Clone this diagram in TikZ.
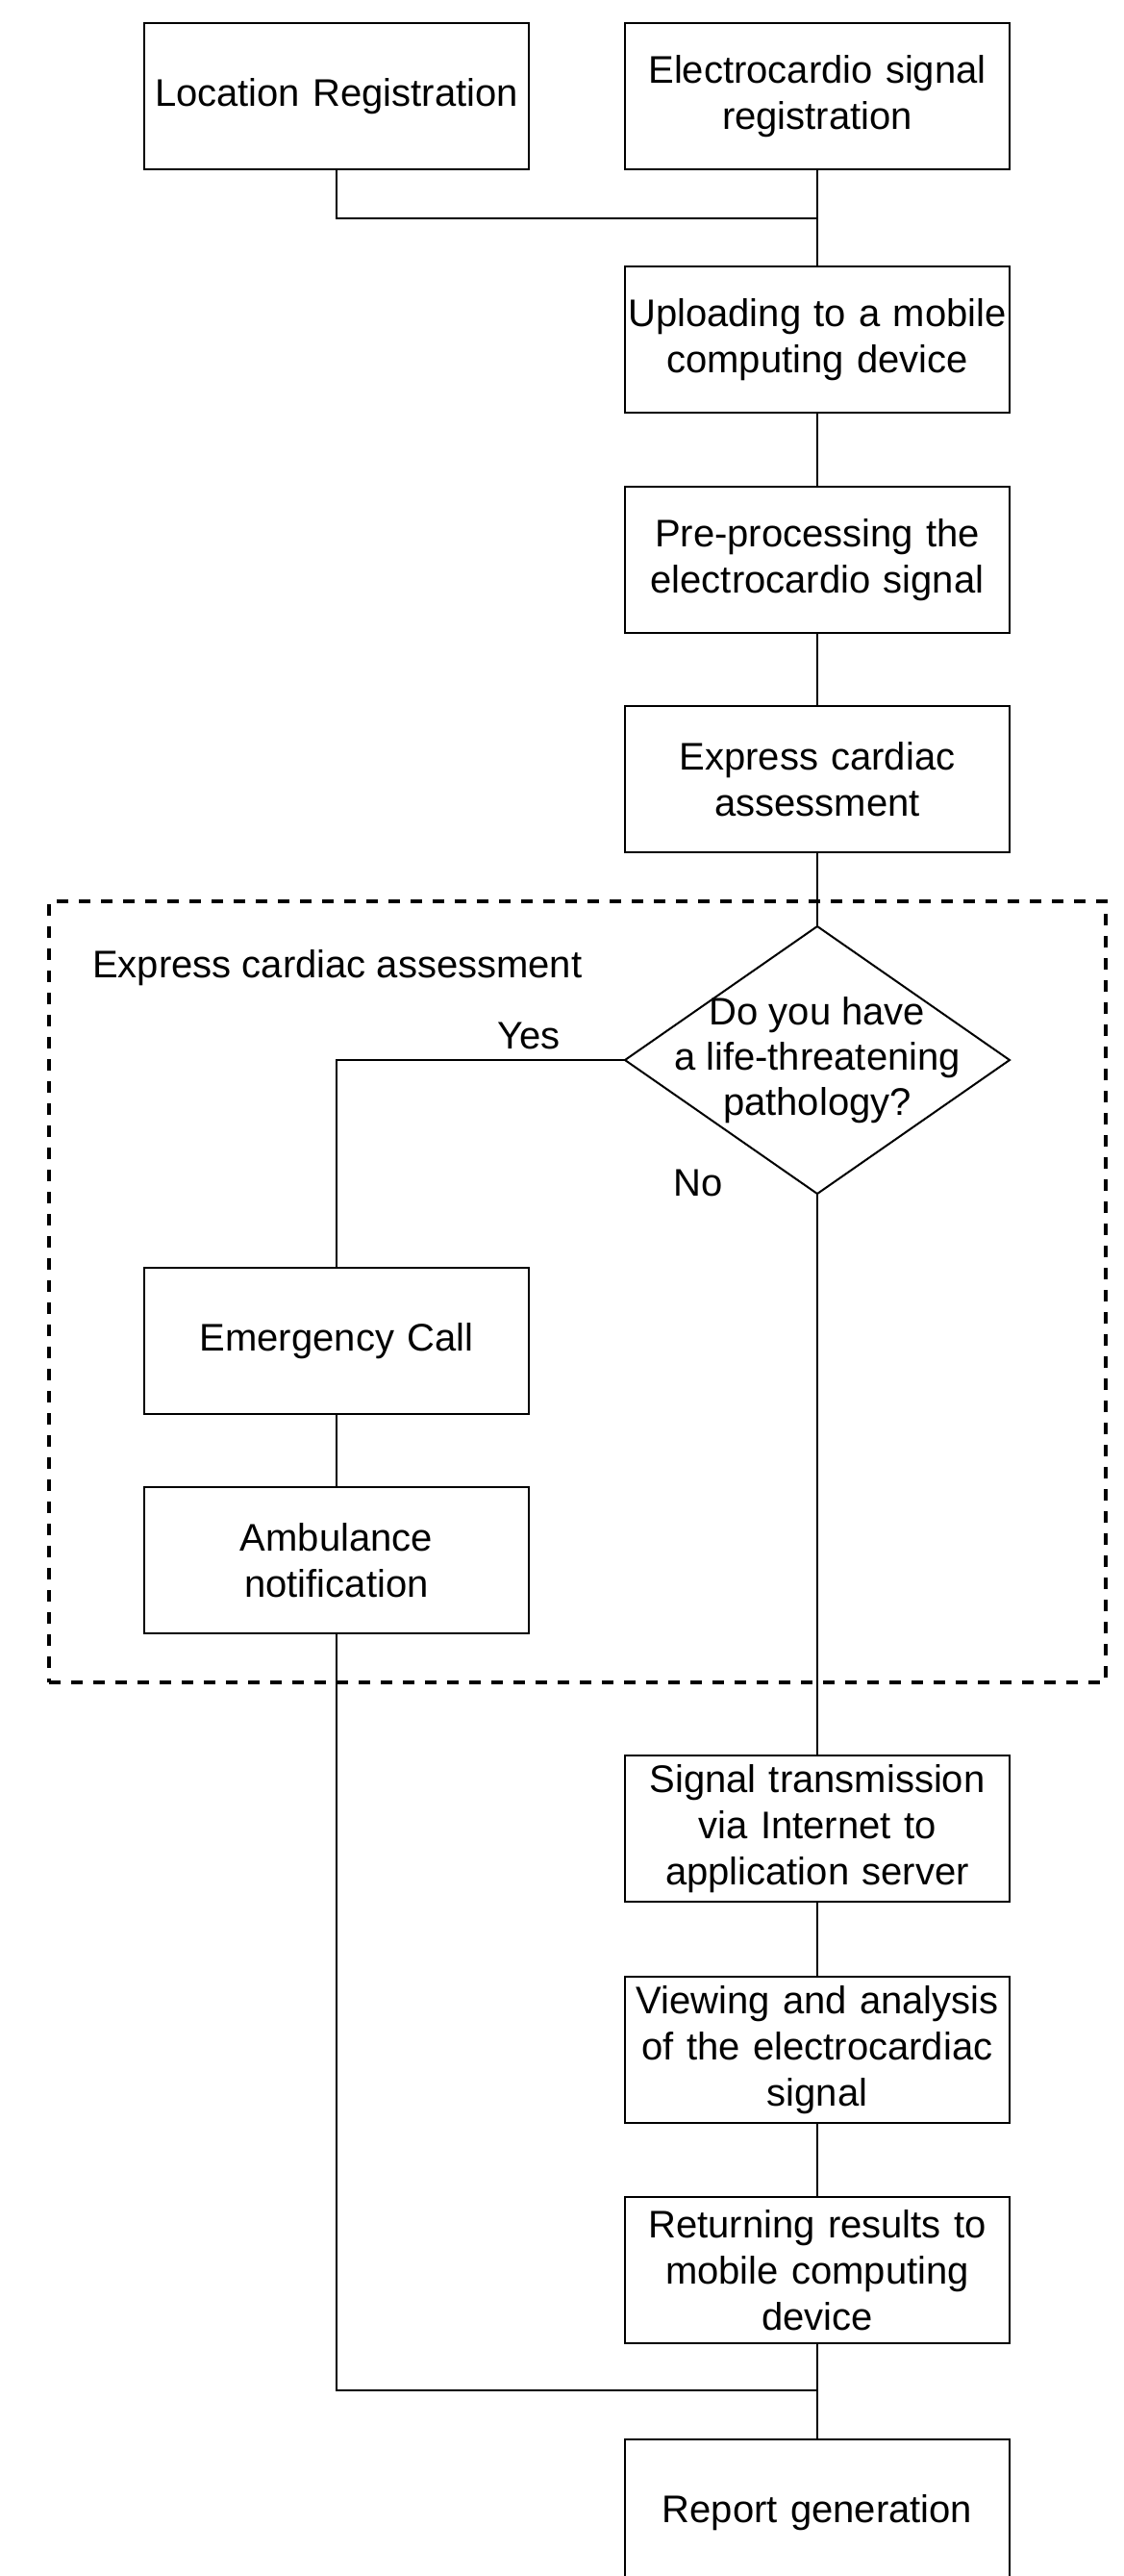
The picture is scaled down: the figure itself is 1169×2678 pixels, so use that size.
\documentclass[tikz,border=0pt]{standalone}
\usepackage{fontspec}
\setmainfont{Liberation Sans}
\usetikzlibrary{shapes.geometric}
\begin{document}
\begin{tikzpicture}[x=1pt,y=-1pt,
  box/.style={draw, line width=2.5pt, minimum width=400pt, minimum height=152pt, inner sep=0pt, outer sep=0pt, text width=396pt, align=center, font=\fontsize{40}{48}\selectfont},
  conn/.style={line width=2pt},
  lbl/.style={inner sep=0pt, anchor=base west, font=\fontsize{40}{48}\selectfont}]
\useasboundingbox (0,0) rectangle (1169,2678);
\clip (0,0) rectangle (1169,2678);
\fill[white] (0,0) rectangle (1169,2678);

% group box
\node[draw, line width=3.5pt, dash pattern=on 12pt off 11pt, minimum width=1099pt, minimum height=812pt, inner sep=0pt, outer sep=0pt] (grp) at (600.5,1343) {};
\node[lbl] (grplbl) at (96,1016) {Express cardiac assessment};

% nodes
\node[box] (LR) at (350,100) {Location Registration};
\node[box] (ES) at (850,100) {Electrocardio signal\\registration};
\node[box] (UP) at (850,353) {Uploading to a mobile\\computing device};
\node[box] (PP) at (850,582) {Pre-processing the\\electrocardio signal};
\node[box] (EX) at (850,810) {Express cardiac\\assessment};
\node[draw, diamond, line width=2pt, minimum width=400pt, minimum height=278pt, inner sep=0pt, outer sep=0pt] (D) at (850,1102) {};
\node[inner sep=0pt, align=center, font=\fontsize{40}{47}\selectfont] (Dtext) at (850,1102) {Do you have\\a life-threatening\\pathology?};
\node[box] (EC) at (350,1394) {Emergency Call};
\node[box] (AN) at (350,1622) {Ambulance\\notification};
\node[box] (ST) at (850,1901) {Signal transmission\\via Internet to\\application server};
\node[box] (VA) at (850,2131) {Viewing and analysis\\of the electrocardiac\\signal};
\node[box] (RR) at (850,2360) {Returning results to\\mobile computing\\device};
\node[box] (RG) at (850,2612) {Report generation};

\node[lbl] (yes) at (517,1090) {Yes};
\node[lbl] (no) at (700,1243) {No};

\coordinate (j1) at (850,227);
\coordinate (j2) at (850,2485);

% connectors
\draw[conn] (LR.south) |- (j1);
\draw[conn] (ES.south) -- (UP.north);
\draw[conn] (UP.south) -- (PP.north);
\draw[conn] (PP.south) -- (EX.north);
\draw[conn] (EX.south) -- (D.north);
\draw[conn] (D.west) -| (EC.north);
\draw[conn] (EC.south) -- (AN.north);
\draw[conn] (AN.south) |- (j2);
\draw[conn] (D.south) -- (ST.north);
\draw[conn] (ST.south) -- (VA.north);
\draw[conn] (VA.south) -- (RR.north);
\draw[conn] (RR.south) -- (RG.north);
\end{tikzpicture}
\end{document}
